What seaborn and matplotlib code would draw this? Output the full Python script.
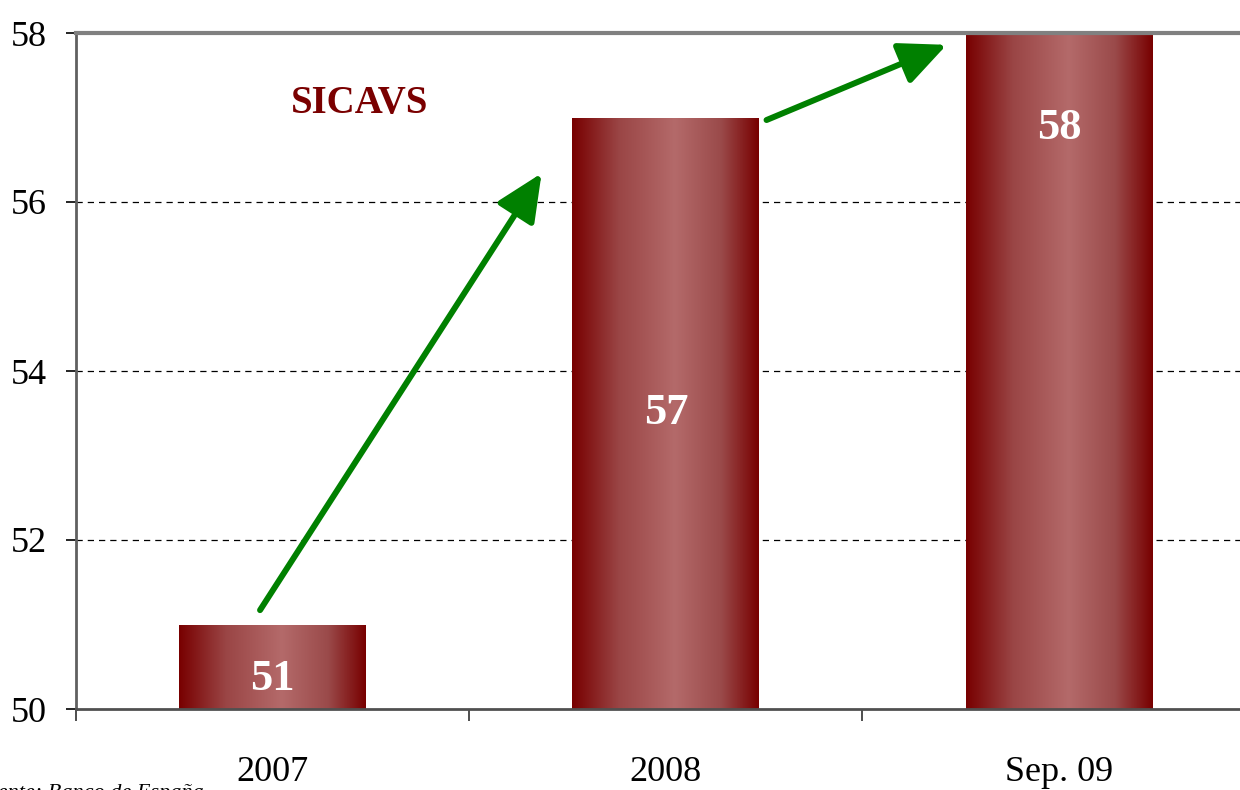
import numpy as np
import pandas as pd
import matplotlib
matplotlib.use("Agg")
import matplotlib.pyplot as plt
from matplotlib.colors import LinearSegmentedColormap
import seaborn as sns

categories = ["2007", "2008", "Sep. 09"]
values = [51, 57, 58]
title_text = "SICAVS"
source_text = "Fuente: Banco de España"
y_ticks = [50, 52, 54, 56, 58]

sns.set_theme(style="white")
plt.rcParams['font.family'] = ['Liberation Serif', 'DejaVu Serif']
plt.rcParams['text.color'] = 'black'

fig = plt.figure(figsize=(12.4, 7.9), dpi=100)
ax = fig.add_axes([76/1240, 1-709/790, 1-76/1240, (709-33)/790])

df = pd.DataFrame({"cat": categories, "val": values})
sns.barplot(data=df, x="cat", y="val", ax=ax, width=0.475, color="#7a0000",
            edgecolor="none", saturation=1)

cmap = LinearSegmentedColormap.from_list(
    "bar", [(0.0, "#780000"), (0.25, "#9a4545"), (0.55, "#b46a6a"),
            (0.8, "#9a4a4a"), (1.0, "#780000")])
grad = np.linspace(0, 1, 256).reshape(1, -1)
ax.set_ylim(50, 58)
ax.set_xlim(-0.5, 2.46)
for p in ax.patches:
    x0 = p.get_x(); w = p.get_width(); h = p.get_height()
    im = ax.imshow(grad, cmap=cmap, aspect="auto",
                   extent=[x0, x0 + w, 50, h], zorder=3)
    im.set_clip_path(p)
    p.set_facecolor("none")

for i, v in enumerate(values):
    ypos = 50 + (v - 50) / 2 if v < 58 else v - 1.13
    if v == 51:
        ypos = 50.35
    ax.text(i, ypos, str(v), ha="center", va="center", color="white",
            fontsize=32, fontweight="bold", zorder=5)

ax.set_yticks(y_ticks)
ax.set_yticklabels([str(t) for t in y_ticks], fontsize=26)
for t in [52, 54, 56]:
    ax.axhline(t, color="black", lw=0.9, ls=(0, (5, 4)), zorder=1)

ax.set_xticks(range(len(categories)))
ax.set_xticklabels(categories, fontsize=26)
ax.set_xticks([-0.5, 0.5, 1.5], minor=True)
ax.tick_params(axis="x", which="both", bottom=True)
ax.tick_params(axis="y", which="major", left=True)
ax.tick_params(axis="x", which="major", length=0, pad=34, labelcolor="black")
ax.tick_params(axis="x", which="minor", length=8.5, width=1.3, color="#404040",
               direction="out")
ax.tick_params(axis="y", which="major", length=7, width=1.2, color="black",
               direction="out", pad=14, labelcolor="black")
ax.set_xlabel("")
ax.set_ylabel("")

ax.spines["right"].set_visible(False)
ax.spines["top"].set_color("#808080")
ax.spines["top"].set_linewidth(3)
ax.spines["left"].set_color("#606060")
ax.spines["left"].set_linewidth(2)
ax.spines["bottom"].set_color("#505050")
ax.spines["bottom"].set_linewidth(2)
for s in ax.spines.values():
    s.set_zorder(6)

arrow_style = "-|>,head_length=2.4,head_width=1.1"
ax.annotate("", xy=(0.684, 56.34), xytext=(-0.032, 51.17),
            arrowprops=dict(arrowstyle=arrow_style, color="#008000", lw=4.3,
                            shrinkA=0, shrinkB=0),
            zorder=7, annotation_clip=False)
ax.annotate("", xy=(1.714, 57.86), xytext=(1.256, 56.97),
            arrowprops=dict(arrowstyle=arrow_style, color="#008000", lw=4.3,
                            shrinkA=0, shrinkB=0),
            zorder=7, annotation_clip=False)

ax.text(0.22, 57.17, title_text, ha="center", va="center", color="#7a0000",
        fontsize=28, fontweight="bold", zorder=5)

fig.text(-0.022, -0.0095, source_text, fontsize=16, style="italic",
         ha="left", va="baseline", color="black")

fig.savefig("out.png", dpi=100)
